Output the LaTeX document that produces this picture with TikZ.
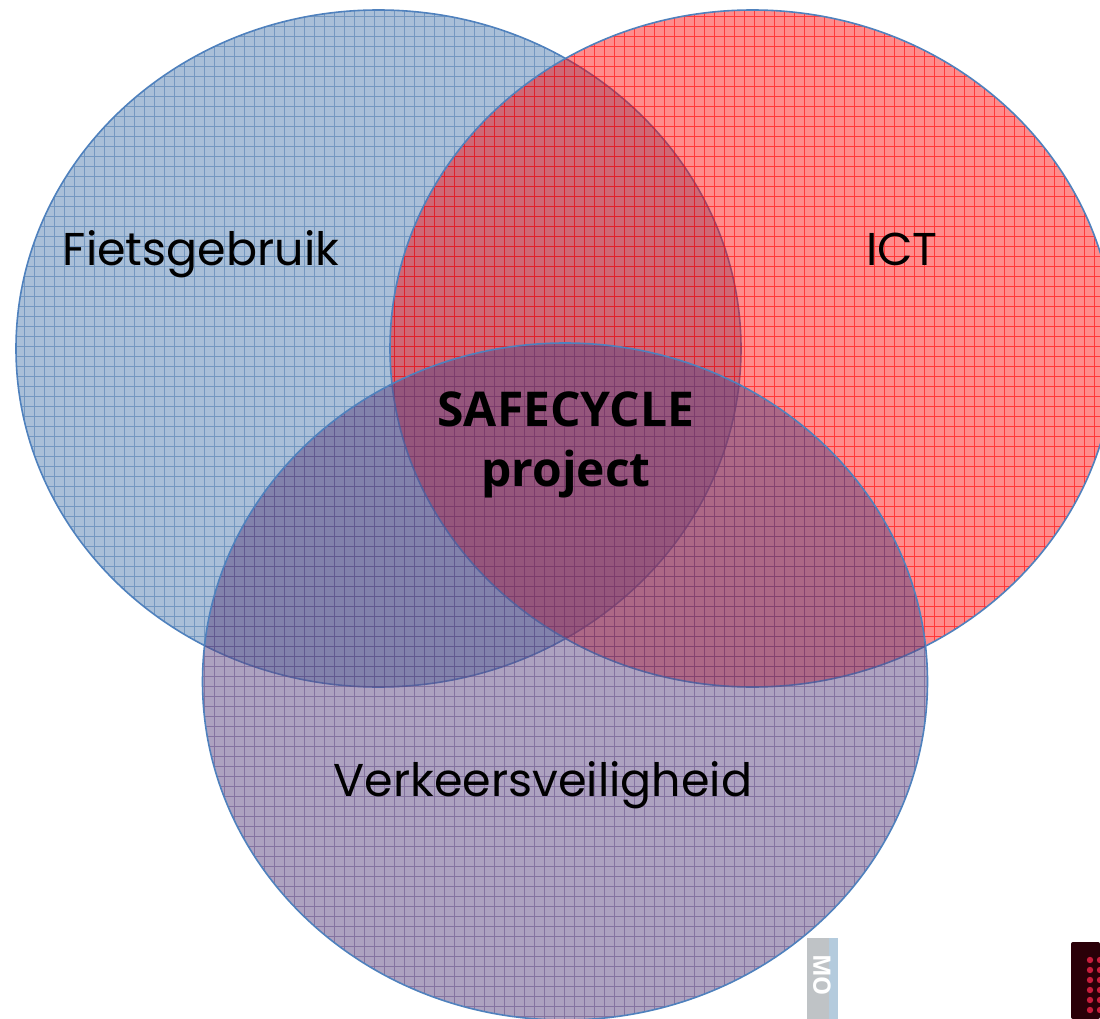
\documentclass[tikz,border=0pt]{standalone}
\usepackage{fontspec}
\setmainfont{Poppins}
\newfontfamily\boldfam{Open Sans}
\definecolor{bluefill}{HTML}{4A77AE}
\definecolor{blueline}{HTML}{4F81BD}
\definecolor{redfill}{HTML}{FF0000}
\definecolor{purplefill}{HTML}{5C4682}
\definecolor{stripgray}{HTML}{BFC3C6}
\definecolor{stripblue}{HTML}{B4CBDD}
\definecolor{ledback}{HTML}{2A0008}
\definecolor{leddot}{HTML}{C81E3C}
\tikzset{
  x=1pt,y=1pt,
  vennedge/.style={draw=blueline,line width=1.6pt},
  vennlabel/.style={font=\fontsize{46}{50}\selectfont,text=black,inner sep=0pt,anchor=base},
  corelabel/.style={font=\boldfam\bfseries\fontsize{48}{60}\selectfont,text=black,align=center,inner sep=0pt},
  coarse/.style={line width=1.1pt}
}
\newcommand{\vennset}[6]{% cx, cy, fill, fill op, grid colour, grid op
  \path[fill=#3,fill opacity=#4] (#1,#2) ellipse [x radius=362.5,y radius=338.5];
  \begin{scope}
    \clip (#1,#2) ellipse [x radius=362.5,y radius=338.5];
    \draw[coarse,#5,opacity=#6,step=10pt,shift={(4.5,-6.5)}] (-10,-1040) grid (1120,10);
  \end{scope}
}
\begin{document}
\begin{tikzpicture}
\useasboundingbox (0,0) rectangle (1100,-1019);
\fill[white] (0,0) rectangle (1100,-1019);
% small image fragments at the bottom
\fill[stripgray] (807,-938) rectangle (838,-1019);
\fill[stripblue] (829,-938) rectangle (838,-1019);
\node[rotate=-90,white,font=\boldfam\bfseries\fontsize{24}{24}\selectfont,inner sep=0pt] (mo) at (822,-975) {MO};
\fill[ledback,rounded corners=2pt] (1071,-942) rectangle (1100,-1019);
\foreach \yy in {960,970,...,1010}{\foreach \xx in {1090,1100}{\fill[leddot] (\xx,-\yy) circle (3.2);}}
% Venn
\vennset{378.5}{-348.5}{bluefill}{.47}{bluefill}{.55}
\draw[vennedge] (378.5,-348.5) ellipse [x radius=362.5,y radius=338.5];
\vennset{752.5}{-348.5}{redfill}{.45}{redfill}{.6}
\draw[vennedge] (752.5,-348.5) ellipse [x radius=362.5,y radius=338.5];
\vennset{565}{-681.5}{purplefill}{.5}{purplefill}{.5}
\draw[vennedge] (565,-681.5) ellipse [x radius=362.5,y radius=338.5];
\node[vennlabel] (f) at (201,-265) {Fietsgebruik};
\node[vennlabel] (i) at (902,-265) {ICT};
\node[vennlabel] (v) at (543,-796) {Verkeersveiligheid};
\node[corelabel] (s) at (566,-445) {SAFECYCLE\\project};
\end{tikzpicture}
\end{document}
